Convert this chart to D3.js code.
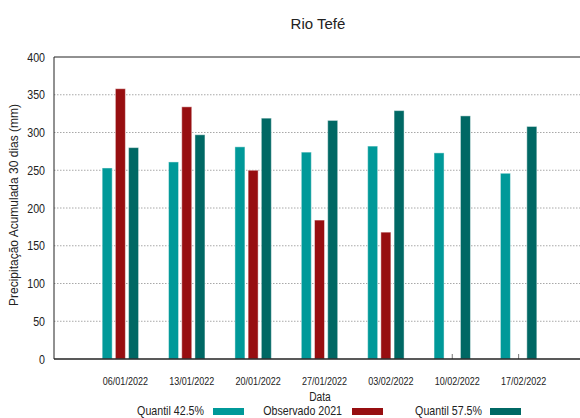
<!DOCTYPE html>
<html>
<head>
<meta charset="utf-8">
<script src="https://cdn.jsdelivr.net/npm/d3@7"></script>
<style>
  body { margin: 0; background: #fff; }
  text { font-family: "Liberation Sans", sans-serif; fill: #222; }
</style>
</head>
<body>
<div id="chart"></div>
<script>
var dates = ["06/01/2022", "13/01/2022", "20/01/2022", "27/01/2022", "03/02/2022", "10/02/2022", "17/02/2022"];
var quantil425 = [253, 261, 281, 274, 282, 273, 246];
var observado2021 = [358, 334, 250, 184, 168, null, null];
var quantil575 = [280, 297, 319, 316, 329, 322, 308];
var yTicks = [0, 50, 100, 150, 200, 250, 300, 350, 400];

var seriesNames = ["Quantil 42.5%", "Observado 2021", "Quantil 57.5%"];
var seriesColors = ["#009999", "#970e10", "#006864"];
var seriesValues = [quantil425, observado2021, quantil575];

var width = 580, height = 418;
var margin = { top: 57, left: 54, right: -5, bottom: 59 };

// condensed look: squeeze text horizontally
var squeeze = 0.82;
function narrow(x0, y0) {
  return "translate(" + x0 + "," + y0 + ") scale(" + squeeze + ",1)";
}

var svg = d3.select("#chart").append("svg")
            .attr("width", width)
            .attr("height", height);

var x = d3.scalePoint()
          .domain(dates)
          .range([margin.left, width - margin.right])
          .padding(1);

var y = d3.scaleLinear()
          .domain([0, 400])
          .range([height - margin.bottom, margin.top]);

var barW = 10, barGap = 13.2;

// grid lines
svg.append("g")
   .selectAll("line")
   .data(yTicks.filter(d => d > 0 && d < 400))
   .enter().append("line")
   .attr("x1", margin.left)
   .attr("x2", width)
   .attr("y1", d => y(d))
   .attr("y2", d => y(d))
   .attr("stroke", "#a8a8a8")
   .attr("stroke-width", 1)
   .attr("stroke-dasharray", "1.5,1.5");

// x tick marks (hidden behind red bars where present)
svg.append("g")
   .selectAll("line")
   .data(dates)
   .enter().append("line")
   .attr("x1", d => x(d))
   .attr("x2", d => x(d))
   .attr("y1", y(0))
   .attr("y2", y(0) - 5)
   .attr("stroke", "#777")
   .attr("stroke-width", 1);

// bars
seriesValues.forEach((vals, s) => {
  svg.append("g")
     .selectAll("rect")
     .data(vals.map((v, i) => ({ date: dates[i], v: v })).filter(d => d.v != null))
     .enter().append("rect")
     .attr("x", d => x(d.date) + (s - 1) * barGap - barW / 2)
     .attr("y", d => y(d.v))
     .attr("width", barW)
     .attr("height", d => y(0) - y(d.v))
     .attr("fill", seriesColors[s])
     .attr("stroke", "#fff")
     .attr("stroke-opacity", 0.45)
     .attr("stroke-width", 1);
});

// frame
svg.append("line")
   .attr("x1", margin.left).attr("x2", width)
   .attr("y1", y(400)).attr("y2", y(400))
   .attr("stroke", "#222").attr("stroke-width", 1);
svg.append("line")
   .attr("x1", margin.left).attr("x2", width)
   .attr("y1", y(0)).attr("y2", y(0))
   .attr("stroke", "#222").attr("stroke-width", 1.5);
svg.append("line")
   .attr("x1", margin.left).attr("x2", margin.left)
   .attr("y1", y(0)).attr("y2", y(400))
   .attr("stroke", "#222").attr("stroke-width", 1);

// y tick labels
svg.append("g")
   .selectAll("text")
   .data(yTicks)
   .enter().append("text")
   .attr("transform", d => narrow(45, y(d)))
   .attr("dy", "0.36em")
   .attr("text-anchor", "end")
   .style("font-size", "13px")
   .text(d => d);

// x tick labels
svg.append("g")
   .selectAll("text")
   .data(dates)
   .enter().append("text")
   .attr("transform", d => narrow(x(d) + 5, 385))
   .attr("text-anchor", "middle")
   .style("font-size", "11px")
   .text(d => d);

// axis titles
svg.append("text")
   .attr("transform", narrow(320, 401))
   .attr("text-anchor", "middle")
   .style("font-size", "12.5px")
   .text("Data");

svg.append("text")
   .attr("transform", "translate(18," + 205 + ") rotate(-90)")
   .attr("text-anchor", "middle")
   .style("font-size", "12px")
   .text("Precipitação Acumulada 30 dias (mm)");

// title
svg.append("text")
   .attr("x", 318)
   .attr("y", 29)
   .attr("text-anchor", "middle")
   .style("font-size", "15px")
   .text("Rio Tefé");

// legend
var legendTextEnd = [204, 342, 482];
var legendSwatchX = [213, 352, 490];

var legend = svg.selectAll("g.legend")
                .data(seriesNames)
                .enter().append("g")
                .attr("class", "legend");

legend.append("text")
      .attr("transform", (d, i) => narrow(legendTextEnd[i], 415))
      .attr("text-anchor", "end")
      .style("font-size", "13px")
      .text(d => d);

legend.append("rect")
      .attr("x", (d, i) => legendSwatchX[i])
      .attr("y", 408)
      .attr("width", 31)
      .attr("height", 7)
      .attr("fill", (d, i) => seriesColors[i]);
</script>
</body>
</html>
